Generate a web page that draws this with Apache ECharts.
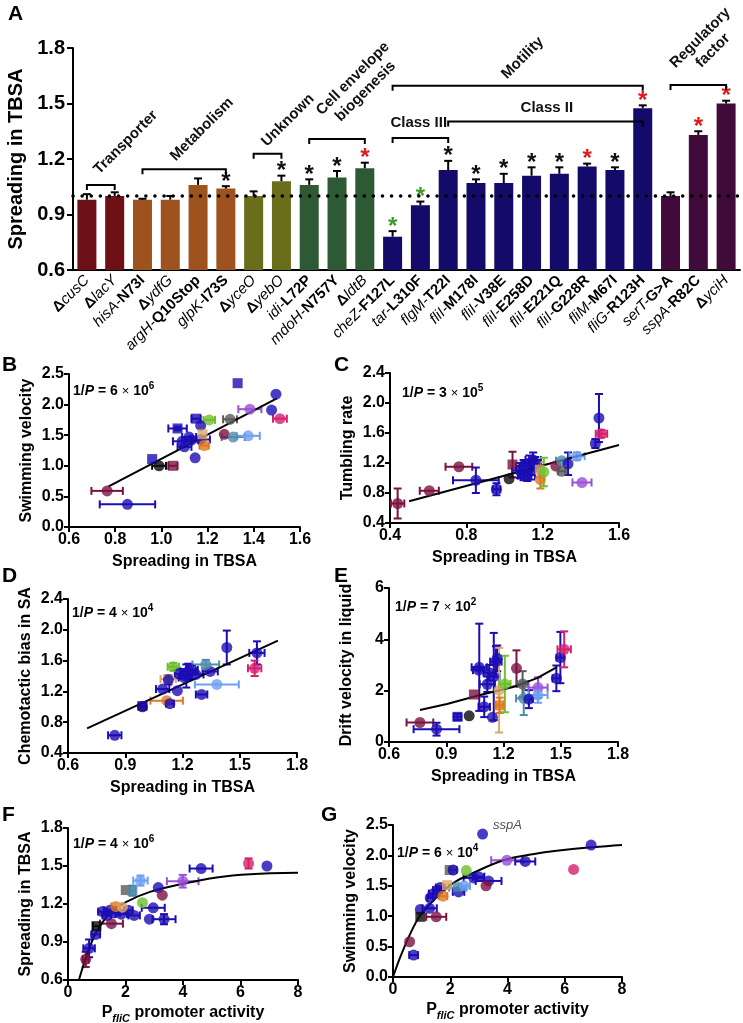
<!DOCTYPE html>
<html>
<head>
<meta charset="utf-8">
<script src="https://cdn.jsdelivr.net/npm/echarts@6/dist/echarts.min.js"></script>
<style>
html, body { margin: 0; padding: 0; background: #fff; }
#chart { width: 743px; height: 1023px; }
</style>
</head>
<body>
<div id="chart"></div>
<script>
const FONT = '"Liberation Sans", Arial, sans-serif'

// ---- panel A: spreading of each mutant ----
const strains = ['ΔcusC', 'ΔlacY', 'hisA-N73I', 'ΔydfG', 'argH-Q10Stop', 'glpK-I73S', 'ΔyceO', 'ΔyebO',
  'idi-L72P', 'mdoH-N757Y', 'ΔldtB', 'cheZ-F127L', 'tar-L310F', 'flgM-T22I', 'fliI-M178I', 'fliI-V38E',
  'fliI-E258D', 'fliI-E221Q', 'fliI-G228R', 'fliM-M67I', 'fliG-R123H', 'serT-G>A', 'sspA-R82C', 'ΔyciH']
const strainGroup = ['tr', 'tr', 'met', 'met', 'met', 'met', 'unk', 'unk', 'env', 'env', 'env',
  'mot', 'mot', 'mot', 'mot', 'mot', 'mot', 'mot', 'mot', 'mot', 'mot', 'reg', 'reg', 'reg']
const spreading = [0.98, 1.00, 0.98, 0.98, 1.06, 1.04, 1.00, 1.08, 1.06, 1.10, 1.15, 0.78, 0.95, 1.14,
  1.07, 1.07, 1.11, 1.12, 1.16, 1.14, 1.475, 1.00, 1.33, 1.50]
const spreadingErr = [0.03, 0.02, 0.005, 0.02, 0.035, 0.013, 0.025, 0.03, 0.03, 0.035, 0.03, 0.03, 0.02, 0.05,
  0.02, 0.05, 0.045, 0.035, 0.015, 0.015, 0.015, 0.02, 0.02, 0.015]
const signif = ['', '', '', '', '', 'k', '', 'k', 'k', 'k', 'r', 'g', 'g', 'k', 'k', 'k', 'k', 'k', 'r', 'k', 'r', '', 'r', 'r']
// [first bar, last bar, level]
const brackets = [[0, 1, 1.06], [2, 5, 1.145], [6, 7, 1.228], [8, 10, 1.308], [11, 20, 1.596],
  [11, 13, 1.313], [13, 20, 1.403], [21, 23, 1.60]]
// [text, bar position, level, tilted]
const groupLabels = [
  ['Transporter', 1.40, 1.29, true],
  ['Metabolism', 4.14, 1.36, true],
  ['Unknown', 7.23, 1.41, true],
  ['Cell envelope\nbiogenesis', 9.8, 1.60, true],
  ['Motility', 15.68, 1.746, true],
  ['Regulatory\nfactor', 22.3, 1.82, true],
  ['Class III', 11.94, 1.395, false],
  ['Class II', 16.55, 1.476, false],
]

// ---- panels B-G: [x, y, xErr, yErr, strain class, shape, label] ----
const panelB = [
  [0.765, 0.59, 0.068, 0, 'maroon', 'c'], [0.853, 0.37, 0.12, 0, 'blue', 'c'], [0.96, 1.11, 0, 0, 'blue', 's'],
  [0.99, 1.0, 0.03, 0, 'black', 'c'], [1.05, 1.0, 0.02, 0, 'maroon', 's'], [1.07, 1.61, 0.04, 0.03, 'blue', 's'],
  [1.09, 1.40, 0.04, 0, 'blue', 'c'], [1.10, 1.31, 0.03, 0, 'blue', 'c'], [1.12, 1.47, 0.03, 0, 'blue', 'c'],
  [1.13, 1.42, 0.03, 0, 'blue', 'c'], [1.15, 1.77, 0.02, 0, 'blue', 's'], [1.17, 1.66, 0, 0, 'blue', 'c'],
  [1.146, 1.13, 0, 0, 'blue', 'c'], [1.17, 1.43, 0.04, 0, 'blue', 'c'], [1.178, 1.515, 0, 0, 'tan', 's'],
  [1.185, 1.33, 0.02, 0, 'orange', 'c'], [1.207, 1.75, 0.025, 0, 'green', 'c'], [1.272, 1.515, 0, 0, 'maroon', 'c'],
  [1.297, 1.76, 0.03, 0, 'gray', 'c'], [1.311, 1.47, 0.05, 0, 'teal', 'c'], [1.376, 1.49, 0.05, 0, 'lblue', 'c'],
  [1.33, 2.35, 0, 0, 'blue', 's'], [1.383, 1.925, 0.05, 0, 'violet', 'c'], [1.477, 1.91, 0, 0, 'blue', 'c'],
  [1.496, 2.17, 0, 0, 'blue', 'c'], [1.513, 1.77, 0.03, 0, 'pink', 'c'],
]
const panelC = [
  [0.44, 0.66, 0.035, 0.2, 'maroon', 'c'], [0.606, 0.83, 0.05, 0, 'maroon', 'c'], [0.761, 1.15, 0.07, 0, 'maroon', 'c'],
  [0.85, 0.97, 0.12, 0.17, 'blue', 'c'], [0.958, 0.85, 0.02, 0.08, 'blue', 'c'], [1.024, 0.99, 0, 0, 'black', 'c'],
  [1.042, 1.18, 0, 0.17, 'maroon', 's'], [1.08, 1.10, 0.04, 0.1, 'blue', 'c'], [1.10, 1.16, 0.04, 0.08, 'blue', 'c'],
  [1.12, 1.04, 0.04, 0.08, 'blue', 'c'], [1.13, 1.20, 0.04, 0.1, 'blue', 'c'], [1.15, 1.24, 0.04, 0.1, 'blue', 'c'],
  [1.14, 1.10, 0.04, 0.12, 'blue', 'c'], [1.16, 1.20, 0.03, 0.08, 'blue', 'c'], [1.10, 1.03, 0.03, 0.06, 'blue', 'c'],
  [1.185, 1.11, 0, 0.1, 'tan', 's'], [1.188, 0.98, 0, 0.12, 'orange', 'c'], [1.206, 1.08, 0, 0.19, 'green', 'c'],
  [1.269, 1.16, 0, 0, 'maroon', 'c'], [1.30, 1.23, 0.03, 0, 'teal', 'c'], [1.30, 1.09, 0.02, 0, 'gray', 'c'],
  [1.333, 1.19, 0, 0.15, 'blue', 'c'], [1.38, 1.29, 0.04, 0.05, 'lblue', 'c'], [1.406, 0.94, 0.05, 0, 'violet', 'c'],
  [1.476, 1.46, 0, 0.06, 'blue', 'c'], [1.495, 1.80, 0, 0.32, 'blue', 'c'], [1.508, 1.59, 0.03, 0.05, 'pink', 'c'],
]
const panelD = [
  [0.845, 0.63, 0.035, 0, 'blue', 'c'], [0.99, 1.0, 0, 0, 'black', 'c'], [0.99, 1.01, 0.02, 0, 'blue', 's'],
  [1.117, 1.08, 0.085, 0, 'orange', 'c'], [1.134, 1.04, 0.02, 0, 'blue', 'c'], [1.096, 1.23, 0.035, 0, 'blue', 'c'],
  [1.173, 1.21, 0, 0, 'blue', 'c'], [1.125, 1.36, 0.04, 0, 'tan', 's'], [1.126, 1.35, 0, 0.06, 'blue', 'c'],
  [1.152, 1.52, 0.03, 0.05, 'green', 'c'], [1.19, 1.43, 0.03, 0.06, 'blue', 's'], [1.21, 1.38, 0.03, 0, 'blue', 'c'],
  [1.23, 1.46, 0.04, 0.1, 'blue', 'c'], [1.22, 1.40, 0.03, 0.15, 'blue', 'c'], [1.27, 1.42, 0.04, 0, 'blue', 'c'],
  [1.25, 1.48, 0.03, 0.06, 'blue', 'c'], [1.345, 1.46, 0.04, 0, 'blue', 'c'], [1.30, 1.16, 0.03, 0, 'blue', 'c'],
  [1.322, 1.55, 0.07, 0.06, 'teal', 'c'], [1.38, 1.29, 0.115, 0, 'lblue', 'c'], [1.432, 1.77, 0, 0.22, 'blue', 'c'],
  [1.59, 1.70, 0.04, 0.15, 'blue', 'c'], [1.578, 1.50, 0.035, 0.1, 'pink', 'c'],
]
const panelE = [
  [0.762, 0.76, 0.07, 0, 'maroon', 'c'], [0.849, 0.50, 0.12, 0.25, 'blue', 'c'], [0.959, 0.98, 0.02, 0.12, 'blue', 's'],
  [1.02, 1.02, 0, 0, 'black', 'c'], [1.045, 1.85, 0, 0, 'maroon', 's'], [1.073, 2.91, 0.04, 1.7, 'blue', 'c'],
  [1.07, 2.80, 0.03, 0, 'blue', 'c'], [1.099, 1.37, 0.03, 0.4, 'blue', 'c'], [1.115, 2.25, 0.04, 0.3, 'blue', 'c'],
  [1.125, 2.70, 0.03, 0.3, 'blue', 'c'], [1.142, 0.96, 0, 0, 'blue', 'c'], [1.149, 2.55, 0.03, 1.7, 'blue', 'c'],
  [1.16, 3.13, 0.03, 0.6, 'blue', 'c'], [1.167, 3.26, 0, 0.5, 'blue', 'c'], [1.177, 2.02, 0, 1.65, 'tan', 'c'],
  [1.18, 1.43, 0.02, 0.3, 'orange', 's'], [1.207, 2.26, 0.03, 1.1, 'green', 'c'], [1.268, 2.87, 0, 0.7, 'maroon', 'c'],
  [1.30, 2.26, 0.03, 0.5, 'gray', 'c'], [1.306, 1.70, 0.04, 0.65, 'teal', 'c'], [1.333, 1.67, 0.02, 0.35, 'blue', 'c'],
  [1.381, 2.12, 0.05, 0.4, 'violet', 'c'], [1.381, 1.83, 0.05, 0.3, 'lblue', 'c'], [1.477, 2.48, 0.02, 0.5, 'blue', 'c'],
  [1.498, 3.29, 0.02, 1.0, 'blue', 'c'], [1.518, 3.61, 0.035, 0.7, 'pink', 'c'],
]
const panelF = [
  [0.616, 0.763, 0.1, 0.06, 'maroon', 'c'], [0.733, 0.85, 0.2, 0.07, 'blue', 'c'], [0.965, 0.96, 0.15, 0, 'blue', 'c'],
  [0.99, 1.025, 0.12, 0, 'black', 's'], [1.51, 1.045, 0.4, 0, 'maroon', 'c'], [1.2, 1.14, 0.15, 0, 'blue', 'c'],
  [1.35, 1.11, 0.15, 0, 'blue', 'c'], [1.45, 1.15, 0.2, 0, 'blue', 'c'], [1.6, 1.13, 0.2, 0, 'blue', 'c'],
  [1.85, 1.12, 0.2, 0, 'blue', 'c'], [2.1, 1.15, 0.15, 0, 'blue', 'c'], [2.3, 1.11, 0.2, 0, 'blue', 'c'],
  [1.66, 1.18, 0.15, 0, 'orange', 'c'], [1.895, 1.175, 0, 0, 'tan', 'c'], [2.01, 1.31, 0, 0, 'gray', 's'],
  [2.24, 1.305, 0.1, 0.04, 'teal', 's'], [2.52, 1.385, 0.25, 0.04, 'lblue', 'c'], [2.59, 1.21, 0, 0, 'green', 'c'],
  [2.965, 1.17, 0.4, 0, 'blue', 'c'], [2.83, 1.08, 0, 0, 'blue', 'c'], [3.34, 1.08, 0.4, 0.04, 'blue', 'c'],
  [3.14, 1.33, 0, 0, 'blue', 'c'], [3.28, 1.27, 0, 0, 'maroon', 'c'], [3.99, 1.38, 0.55, 0.05, 'violet', 'c'],
  [4.63, 1.48, 0.4, 0, 'blue', 'c'], [6.28, 1.52, 0, 0.04, 'pink', 'c'], [6.92, 1.50, 0, 0, 'blue', 'c'],
]
const panelG = [
  [0.58, 0.58, 0, 0, 'maroon', 'c'], [0.72, 0.36, 0.15, 0, 'blue', 'c'], [0.955, 1.11, 0, 0, 'blue', 'c'],
  [0.955, 0.99, 0, 0, 'black', 's'], [1.28, 1.13, 0.25, 0, 'blue', 'c'], [1.51, 0.99, 0.35, 0, 'maroon', 'c'],
  [1.3, 1.30, 0.1, 0, 'blue', 'c'], [1.4, 1.37, 0.15, 0, 'blue', 'c'], [1.55, 1.43, 0.15, 0, 'blue', 'c'],
  [1.65, 1.47, 0.15, 0, 'blue', 'c'], [1.746, 1.33, 0.15, 0, 'orange', 'c'], [1.886, 1.51, 0, 0, 'tan', 's'],
  [2.29, 1.40, 0.2, 0, 'blue', 'c'], [2.26, 1.47, 0.3, 0, 'teal', 's'], [2.49, 1.50, 0.2, 0, 'lblue', 'c'],
  [1.98, 1.76, 0, 0, 'gray', 's'], [2.1, 1.76, 0.12, 0, 'blue', 'c'], [2.56, 1.75, 0, 0, 'green', 'c'],
  [2.82, 1.63, 0.35, 0, 'blue', 'c'], [2.99, 1.65, 0.2, 0, 'blue', 'c'], [3.34, 1.58, 0.45, 0, 'blue', 'c'],
  [3.25, 1.50, 0, 0, 'maroon', 'c'], [3.13, 2.35, 0, 0, 'blue', 'c', 'sspA'], [3.98, 1.92, 0.55, 0, 'violet', 'c'],
  [4.62, 1.90, 0.35, 0, 'blue', 'c'], [6.31, 1.77, 0, 0, 'pink', 'c'], [6.92, 2.17, 0, 0, 'blue', 'c'],
]

// fitted curves
const fitBx = [0.77, 1.50], fitBy = [0.66, 2.10]
const fitCx = [0.50, 1.60], fitCy = [0.69, 1.44]
const fitDx = [0.70, 1.70], fitDy = [0.72, 1.86]
const fitEx = [0.762, 0.904, 1.077, 1.25, 1.376, 1.48], fitEy = [1.25, 1.48, 1.83, 2.14, 2.49, 2.92]
const fitFx = [0.38, 0.52, 0.76, 0.99, 1.45, 2.03, 2.85, 4.0, 5.17, 6.34, 8], fitFy = [0.6, 0.705, 0.862, 0.98, 1.125, 1.217, 1.296, 1.36, 1.41, 1.435, 1.446]
const fitGx = [0, 0.256, 0.605, 0.955, 1.54, 2.12, 2.7, 3.86, 5.03, 6.19, 8], fitGy = [0, 0.33, 0.714, 1.016, 1.32, 1.55, 1.69, 1.92, 2.03, 2.10, 2.17]

const groupColor = { tr: '#6e1117', met: '#9e531e', unk: '#6a6d1c', env: '#2e5935', mot: '#130a69', reg: '#400b3a' }
const starColor = { k: '#111', r: '#e0191e', g: '#3f9b2a' }
const palette = {
  blue: '#1c0db4', maroon: '#7c1141', green: '#6cc12c', gray: '#5a5a5a', pink: '#d5206f', violet: '#9b50d8',
  lblue: '#6d9ff2', teal: '#4f8baa', orange: '#e0781f', tan: '#dca86c', black: '#0a0a0a',
}

const chart = echarts.init(document.getElementById('chart'))

const grids = [
  { left: 73, top: 48, width: 667, height: 222 },
  { left: 69, top: 374, width: 231, height: 153 },
  { left: 390, top: 373, width: 229, height: 150 },
  { left: 68, top: 599, width: 229, height: 154 },
  { left: 389, top: 588, width: 229, height: 154 },
  { left: 68, top: 828, width: 230, height: 152 },
  { left: 393, top: 825, width: 229, height: 152 },
].map(g => ({ ...g, containLabel: false, outerBoundsMode: 'none' }))

const promoterName = '{p|P}{s|fliC}{p| promoter activity}'
const promoterRich = {
  p: { fontFamily: FONT, fontWeight: 'bold', fontSize: 16, lineHeight: 22, color: '#000' },
  s: { fontFamily: FONT, fontWeight: 'bold', fontStyle: 'italic', fontSize: 11, lineHeight: 12, verticalAlign: 'bottom', color: '#000' },
}

const panels = [
  { rows: panelB, fx: fitBx, fy: fitBy, x: [0.6, 1.6, 0.2, 1], y: [0, 2.5, 0.5, 1], xName: 'Spreading in TBSA', yName: 'Swimming velocity', gap: 27 },
  { rows: panelC, fx: fitCx, fy: fitCy, x: [0.4, 1.6, 0.4, 1], y: [0.4, 2.4, 0.4, 1], xName: 'Spreading in TBSA', yName: 'Tumbling rate', gap: 27 },
  { rows: panelD, fx: fitDx, fy: fitDy, x: [0.6, 1.8, 0.3, 1], y: [0.4, 2.4, 0.4, 1], xName: 'Spreading in TBSA', yName: 'Chemotactic bias in SA', gap: 27 },
  { rows: panelE, fx: fitEx, fy: fitEy, x: [0.6, 1.8, 0.3, 1], y: [0, 6, 2, 0], xName: 'Spreading in TBSA', yName: 'Drift velocity in liquid', gap: 27 },
  { rows: panelF, fx: fitFx, fy: fitFy, x: [0, 8, 2, 0], y: [0.6, 1.8, 0.3, 1], xName: promoterName, yName: 'Spreading in TBSA', gap: 22, curved: true },
  { rows: panelG, fx: fitGx, fy: fitGy, x: [0, 8, 2, 0], y: [0, 2.5, 0.5, 1], xName: promoterName, yName: 'Swimming velocity', gap: 22, curved: true },
]

function valueAxis(gridIndex, [min, max, interval, dec], name, nameGap) {
  return {
    type: 'value', gridIndex, min, max, interval,
    name, nameLocation: 'middle', nameGap,
    nameTextStyle: { fontFamily: FONT, fontWeight: 'bold', fontSize: 16, color: '#000', rich: promoterRich },
    axisLine: { show: true, onZero: false, lineStyle: { color: '#000', width: 2 } },
    axisTick: { show: true, length: 5, lineStyle: { color: '#000', width: 2 } },
    axisLabel: { fontFamily: FONT, fontWeight: 'bold', fontSize: 16, color: '#000', margin: 5, formatter: v => v.toFixed(dec) },
    splitLine: { show: false },
  }
}

function strainLabel(s) {
  if (s.startsWith('Δ')) return '{d|Δ}{i|' + s.slice(1) + '}'
  const k = s.indexOf('-')
  return '{i|' + s.slice(0, k + 1) + '}{b|' + s.slice(k + 1) + '}'
}

// position along the category axis that may fall between two bars
function catCoord(api, pos, v) {
  const i0 = Math.floor(pos)
  const p = api.coord([i0, v])
  return [p[0] + (pos - i0) * api.size([1, 0])[0], p[1]]
}

const xAxes = [{
  type: 'category', gridIndex: 0, data: strains,
  axisLine: { lineStyle: { color: '#000', width: 2 } },
  axisTick: { alignWithLabel: true, length: 5, lineStyle: { color: '#000', width: 2 } },
  axisLabel: {
    interval: 0, rotate: 45, margin: 8, color: '#000', formatter: strainLabel,
    rich: {
      d: { fontFamily: FONT, fontWeight: 'bold', fontSize: 15, color: '#000' },
      i: { fontFamily: FONT, fontStyle: 'italic', fontSize: 15, color: '#000' },
      b: { fontFamily: FONT, fontWeight: 'bold', fontSize: 15, color: '#000' },
    },
  },
}]
const yAxes = [{
  type: 'value', gridIndex: 0, min: 0.6, max: 1.8, interval: 0.3,
  name: 'Spreading in TBSA', nameLocation: 'middle', nameGap: 39,
  nameTextStyle: { fontFamily: FONT, fontWeight: 'bold', fontSize: 20, color: '#000' },
  axisLine: { show: true, lineStyle: { color: '#000', width: 2 } },
  axisTick: { show: true, length: 6, lineStyle: { color: '#000', width: 2 } },
  axisLabel: { fontFamily: FONT, fontWeight: 'bold', fontSize: 20, color: '#000', margin: 8, formatter: v => v.toFixed(1) },
  splitLine: { show: false },
}]

const series = [
  {
    type: 'bar', xAxisIndex: 0, yAxisIndex: 0, barWidth: 19,
    data: spreading.map((v, i) => ({ value: v, itemStyle: { color: groupColor[strainGroup[i]] } })),
    markLine: {
      silent: true, symbol: 'none', label: { show: false },
      lineStyle: { color: '#000', width: 3.5, type: [0.1, 9], cap: 'round' },
      data: [{ yAxis: 1 }],
    },
    z: 2,
  },
  {
    type: 'custom', xAxisIndex: 0, yAxisIndex: 0, clip: false, z: 3,
    data: spreading.map((v, i) => [i, v, spreadingErr[i]]),
    renderItem(params, api) {
      const b = api.coord([api.value(0), api.value(1)])
      const t = api.coord([api.value(0), api.value(1) + api.value(2)])
      const st = { stroke: '#000', lineWidth: 2 }
      return {
        type: 'group', children: [
          { type: 'line', shape: { x1: b[0], y1: b[1], x2: t[0], y2: t[1] }, style: st },
          { type: 'line', shape: { x1: t[0] - 4, y1: t[1], x2: t[0] + 4, y2: t[1] }, style: st },
        ],
      }
    },
  },
  {
    type: 'custom', xAxisIndex: 0, yAxisIndex: 0, clip: false, z: 3,
    data: spreading.map((v, i) => ({ value: [i, v + spreadingErr[i]], itemStyle: { color: starColor[signif[i]] || 'none' } }))
      .filter((d, i) => signif[i]),
    renderItem(params, api) {
      const p = api.coord([api.value(0), api.value(1)])
      return {
        type: 'text', x: p[0], y: p[1] - 4,
        style: { text: '*', fill: api.visual('color'), fontFamily: FONT, fontWeight: 'bold', fontSize: 24, align: 'center', verticalAlign: 'middle' },
      }
    },
  },
  {
    type: 'custom', xAxisIndex: 0, yAxisIndex: 0, clip: false, z: 3,
    data: brackets,
    renderItem(params, api) {
      const a = api.coord([api.value(0), api.value(2)])
      const b = api.coord([api.value(1), api.value(2)])
      return {
        type: 'polyline',
        shape: { points: [[a[0], a[1] + 5], a, b, [b[0], b[1] + 5]] },
        style: { stroke: '#000', lineWidth: 2, fill: null },
      }
    },
  },
  {
    type: 'custom', xAxisIndex: 0, yAxisIndex: 0, clip: false, z: 3,
    data: groupLabels.map((g, i) => [i, g[2]]),
    renderItem(params, api) {
      const g = groupLabels[params.dataIndex]
      const p = catCoord(api, g[1], g[2])
      return {
        type: 'text', x: p[0], y: p[1], rotation: g[3] ? Math.PI / 4 : 0,
        style: { text: g[0], fill: '#111', fontFamily: FONT, fontWeight: 'bold', fontSize: 15, lineHeight: 18, align: 'center', verticalAlign: 'middle' },
      }
    },
  },
]

panels.forEach((pn, k) => {
  const gi = k + 1
  xAxes.push(valueAxis(gi, pn.x, pn.xName, pn.gap))
  yAxes.push(valueAxis(gi, pn.y, pn.yName, 34))
  series.push({
    type: 'custom', xAxisIndex: gi, yAxisIndex: gi, clip: false, z: 3,
    data: pn.rows.map(r => ({ value: [r[0], r[1], r[2], r[3]], itemStyle: { color: palette[r[4]] } })),
    renderItem(params, api) {
      const x = api.value(0), y = api.value(1), xe = api.value(2), ye = api.value(3)
      const st = { stroke: api.visual('color'), lineWidth: 2 }
      const kids = []
      if (xe > 0) {
        const l = api.coord([x - xe, y]), r = api.coord([x + xe, y])
        kids.push({ type: 'line', shape: { x1: l[0], y1: l[1], x2: r[0], y2: r[1] }, style: st })
        kids.push({ type: 'line', shape: { x1: l[0], y1: l[1] - 4, x2: l[0], y2: l[1] + 4 }, style: st })
        kids.push({ type: 'line', shape: { x1: r[0], y1: r[1] - 4, x2: r[0], y2: r[1] + 4 }, style: st })
      }
      if (ye > 0) {
        const t = api.coord([x, y + ye]), b = api.coord([x, y - ye])
        kids.push({ type: 'line', shape: { x1: t[0], y1: t[1], x2: b[0], y2: b[1] }, style: st })
        kids.push({ type: 'line', shape: { x1: t[0] - 4, y1: t[1], x2: t[0] + 4, y2: t[1] }, style: st })
        kids.push({ type: 'line', shape: { x1: b[0] - 4, y1: b[1], x2: b[0] + 4, y2: b[1] }, style: st })
      }
      return { type: 'group', children: kids }
    },
  })
  series.push({
    type: 'line', xAxisIndex: gi, yAxisIndex: gi, silent: true, symbol: 'none', z: 4,
    smooth: pn.curved ? 0.35 : false,
    lineStyle: { color: '#000', width: 2 },
    data: pn.fx.map((x, i) => [x, pn.fy[i]]),
  })
  series.push({
    type: 'scatter', xAxisIndex: gi, yAxisIndex: gi, z: 5,
    data: pn.rows.map(r => ({
      value: [r[0], r[1]],
      symbol: r[5] === 's' ? 'rect' : 'circle',
      symbolSize: r[5] === 's' ? 10 : 11,
      itemStyle: { color: palette[r[4]] },
      label: r[6] ? { show: true, formatter: r[6], position: 'right', offset: [0, -9], fontFamily: FONT, fontStyle: 'italic', fontSize: 13, color: '#222' } : undefined,
    })),
  })
})

// panel letters and 1/P notes
const pRich = {
  n: { fontFamily: FONT, fontWeight: 'bold', fontSize: 14, lineHeight: 20, fill: '#000' },
  it: { fontFamily: FONT, fontWeight: 'bold', fontStyle: 'italic', fontSize: 14, lineHeight: 20, fill: '#000' },
  x: { fontFamily: FONT, fontSize: 13, lineHeight: 20, fill: '#000' },
  sup: { fontFamily: FONT, fontWeight: 'bold', fontSize: 10, lineHeight: 10, verticalAlign: 'top', fill: '#000' },
}
const pNote = (m, e) => '{n|1/}{it|P}{n| = ' + m + ' }{x|×}{n| 10}{sup|' + e + '}'
const notes = [[73, 381, pNote(6, 6)], [402, 383, pNote(3, 5)], [72, 603, pNote(4, 4)], [395, 597, pNote(7, 2)], [73, 834, pNote(4, 6)], [397, 843, pNote(6, 4)]]
const letters = [['A', 8, 4], ['B', 2, 355], ['C', 334, 355], ['D', 2, 566], ['E', 334, 566], ['F', 2, 805], ['G', 321, 805]]

const graphic = [
  ...letters.map(([t, x, y]) => ({ type: 'text', left: x, top: y, style: { text: t, fontFamily: FONT, fontWeight: 'bold', fontSize: 21, fill: '#000' } })),
  ...notes.map(([x, y, t]) => ({ type: 'text', left: x, top: y, style: { text: t, rich: pRich } })),
]

chart.setOption({
  animation: false,
  backgroundColor: '#fff',
  grid: grids,
  xAxis: xAxes,
  yAxis: yAxes,
  series,
  graphic,
})
</script>
</body>
</html>
